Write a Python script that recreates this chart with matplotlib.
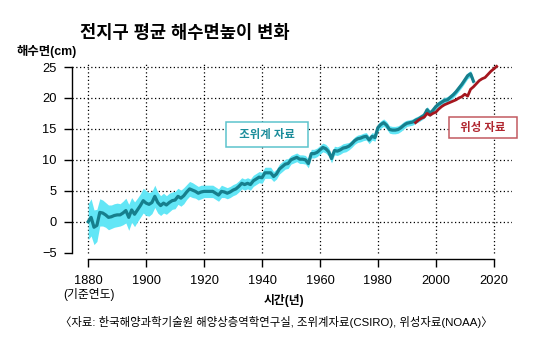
import matplotlib
matplotlib.use("Agg")
import matplotlib.pyplot as plt
import numpy as np

plt.rcParams['font.family'] = ['Liberation Sans', 'Noto Sans CJK KR', 'DejaVu Sans']

# 조위계 자료 (CSIRO), cm, 1880 기준
tide_years = list(range(1880, 2014))
tide_level = [
    0.0, 0.7, -0.9, -0.6, 1.5, 1.4, 1.1, 0.7, 0.8, 1.0,
    1.1, 1.1, 1.4, 1.8, 0.7, 1.9, 1.2, 1.9, 2.6, 3.4,
    3.0, 2.8, 3.1, 4.1, 3.1, 2.6, 3.0, 2.7, 3.1, 3.4,
    3.5, 4.1, 3.8, 4.2, 4.8, 5.3, 5.1, 4.9, 4.6, 4.8,
    4.9, 4.9, 4.9, 4.9, 4.6, 4.3, 4.9, 4.8, 4.6, 4.8,
    5.1, 5.3, 5.7, 6.2, 6.0, 6.2, 6.0, 6.6, 6.9, 7.2,
    7.1, 7.9, 7.9, 7.9, 7.3, 7.7, 8.5, 8.9, 9.3, 9.4,
    10.0, 10.2, 10.4, 10.1, 10.1, 10.0, 9.4, 11.0, 11.0, 11.2,
    11.6, 12.0, 11.8, 11.3, 10.2, 11.5, 11.4, 11.6, 11.9, 12.0,
    12.2, 12.6, 13.1, 13.4, 13.5, 13.7, 13.8, 13.2, 13.8, 13.6,
    15.2, 15.7, 16.0, 15.6, 14.9, 14.8, 14.8, 14.9, 15.2, 15.6,
    15.9, 16.0, 16.1, 16.4, 16.6, 16.9, 17.2, 18.1, 17.5, 18.0,
    18.6, 19.0, 19.3, 19.6, 19.7, 20.1, 20.5, 21.0, 21.6, 22.2,
    22.9, 23.6, 23.9, 22.7,
]
tide_err = [
    2.9, 3.0, 2.8, 2.6, 2.2, 2.1, 2.0, 2.0, 1.9, 1.9,
    1.9, 1.8, 1.9, 2.0, 2.1, 2.0, 2.0, 1.9, 1.9, 2.0,
    2.0, 1.9, 1.8, 1.8, 1.7, 1.6, 1.6, 1.5, 1.5, 1.4,
    1.4, 1.3, 1.3, 1.3, 1.2, 1.2, 1.2, 1.1, 1.1, 1.1,
    1.0, 1.0, 1.0, 1.0, 1.0, 1.0, 1.0, 0.9, 0.9, 0.9,
    0.9, 0.9, 0.9, 0.9, 0.9, 0.9, 0.9, 0.9, 0.9, 0.9,
    0.9, 0.9, 0.9, 0.9, 0.8, 0.8, 0.8, 0.8, 0.8, 0.8,
    0.7, 0.7, 0.7, 0.7, 0.7, 0.7, 0.7, 0.7, 0.7, 0.7,
    0.7, 0.7, 0.7, 0.7, 0.7, 0.7, 0.7, 0.7, 0.7, 0.7,
    0.6, 0.6, 0.6, 0.6, 0.6, 0.6, 0.6, 0.6, 0.6, 0.6,
    0.6, 0.6, 0.6, 0.6, 0.6, 0.6, 0.6, 0.6, 0.6, 0.6,
    0.5, 0.5, 0.5, 0.5, 0.5, 0.5, 0.5, 0.5, 0.5, 0.5,
    0.5, 0.5, 0.5, 0.5, 0.5, 0.5, 0.5, 0.5, 0.5, 0.5,
    0.5, 0.5, 0.5, 0.5,
]

# 위성 자료 (NOAA)
sat_years = list(range(1993, 2022))
sat_level = [
    16.0, 16.4, 16.7, 16.9, 17.5, 17.2, 17.5, 17.7, 18.2, 18.6,
    18.9, 19.1, 19.3, 19.5, 19.7, 20.0, 20.2, 20.6, 20.3, 21.4,
    21.8, 22.3, 22.8, 23.1, 23.3, 23.8, 24.3, 24.7, 25.1,
]

x_ticks = [1880, 1900, 1920, 1940, 1960, 1980, 2000, 2020]
y_ticks = [-5, 0, 5, 10, 15, 20, 25]
y_grid = [0, 5, 10, 15, 20, 25]

teal = '#167f8d'
cyan = '#62e6f6'
red = '#a5161e'

fig = plt.figure(figsize=(5.4, 3.49), dpi=100)
ax = fig.add_axes([0.1333, 0.257, 0.8143, 0.5652])
ax.set_xlim(1874.4, 2026.2)
ax.set_ylim(-6.08, 25.8)

# 격자
ax.hlines(y_grid, 1874.4, 2026.2, colors='black', linestyles=(0, (1, 2)), linewidth=0.9, zorder=1)
ax.vlines(x_ticks, -5, 25.8, colors='black', linestyles=(0, (1, 2)), linewidth=0.9, zorder=1)

t = np.array(tide_level)
e = np.array(tide_err)
ax.fill_between(tide_years, t - e, t + e, color=cyan, linewidth=0, zorder=2)
ax.plot(tide_years, tide_level, color=teal, linewidth=2.3, zorder=3)
ax.plot(sat_years, sat_level, color=red, linewidth=2.0, zorder=4)

for s in ['top', 'right']:
    ax.spines[s].set_visible(False)
ax.spines['left'].set_bounds(-5, 25)
ax.spines['bottom'].set_bounds(1880, 2020)
ax.spines['left'].set_linewidth(1.0)
ax.spines['bottom'].set_linewidth(1.0)
ax.set_xticks(x_ticks)
ax.set_yticks(y_ticks)
ax.set_yticklabels(['\u22125' if v < 0 else str(v) for v in y_ticks])
ax.tick_params(direction='out', length=6, width=1.0, labelsize=9.3, pad=5)

ax.text(1941.7, 14.09, '  조위계 자료  ', color='#1b8c9a', fontsize=8.2, fontweight='bold',
        ha='center', va='center', zorder=5,
        bbox=dict(boxstyle='square,pad=0.6', fc='white', ec='#5cc3cd', lw=1.1))
ax.text(2016.3, 15.22, '  위성 자료  ', color='#b0262f', fontsize=8.2, fontweight='bold',
        ha='center', va='center', zorder=5,
        bbox=dict(boxstyle='square,pad=0.45', fc='white', ec='#c25a61', lw=1.1))

fig.text(0.148, 0.905, '전지구 평균 해수면높이 변화', fontsize=12.7, fontweight='bold', va='center')
fig.text(0.031, 0.854, '해수면(cm)', fontsize=8.9, fontweight='bold', va='center')
fig.text(0.164, 0.155, '(기준연도)', fontsize=8.5, ha='center', va='center')
fig.text(0.526, 0.140, '시간(년)', fontsize=8.5, fontweight='bold', ha='center', va='center')
fig.text(0.111, 0.077, '〈자료: 한국해양과학기술원 해양상층역학연구실, 조위계자료(CSIRO), 위성자료(NOAA)〉',
         fontsize=8.2, va='center')

fig.savefig('out.png', dpi=100)
